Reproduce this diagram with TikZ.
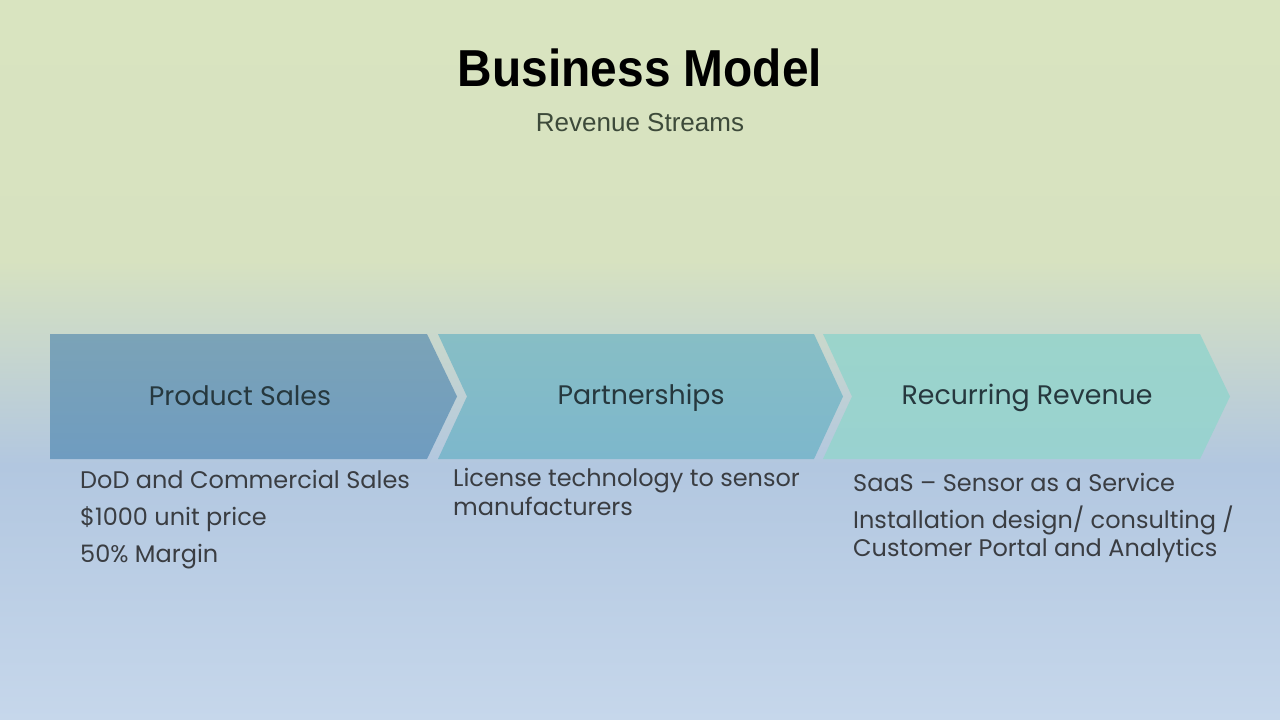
\documentclass[tikz,border=0pt]{standalone}
\usepackage{fontspec}
\setmainfont{Poppins}
\newfontfamily\titlefont[FakeStretch=0.92]{Liberation Sans}
\newfontfamily\subfont{Liberation Sans}
\definecolor{bgA}{HTML}{D9E4C0}
\definecolor{bgB}{HTML}{D7E2C0}
\definecolor{bgC}{HTML}{B2C7E0}
\definecolor{bgD}{HTML}{C6D7EB}
\definecolor{cA1}{HTML}{7BA3B7}
\definecolor{cA2}{HTML}{6F9CC0}
\definecolor{cB1}{HTML}{87BEC5}
\definecolor{cB2}{HTML}{7DB7CC}
\definecolor{cC1}{HTML}{9BD4CB}
\definecolor{cC2}{HTML}{99D2D0}
\definecolor{bodytext}{HTML}{3A3D42}
\definecolor{labeltext}{HTML}{26383E}
\definecolor{subtext}{HTML}{3D4A3A}
\tikzset{
  chevlabel/.style={anchor=base, text=labeltext, font=\fontsize{26.8}{31}\selectfont, inner sep=0pt},
  bodyline/.style={anchor=base west, text=bodytext, font=\fontsize{24}{29}\selectfont, inner sep=0pt},
}
\begin{document}
\begin{tikzpicture}[x=1pt,y=-1pt]
\useasboundingbox (0,0) rectangle (1280,720);
% background
\shade[top color=bgA, bottom color=bgB] (0,0) rectangle (1280,260.5);
\shade[top color=bgB, bottom color=bgC] (0,260) rectangle (1280,465.5);
\shade[top color=bgC, bottom color=bgD] (0,465) rectangle (1280,720);
% chevrons
\shade[top color=cA1, bottom color=cA2] (50,334) -- (427,334) -- (457,396.5) -- (427,459) -- (50,459) -- cycle;
\shade[top color=cB1, bottom color=cB2] (438,334) -- (814,334) -- (843,396.5) -- (814,459) -- (438,459) -- (467,396.5) -- cycle;
\shade[top color=cC1, bottom color=cC2] (823,334) -- (1200,334) -- (1230,396.5) -- (1200,459) -- (823,459) -- (852,396.5) -- cycle;
% title
\node[anchor=base, inner sep=0pt, font=\titlefont\bfseries\fontsize{52}{60}\selectfont] (title) at (640,86) {Business Model};
\node[anchor=base, inner sep=0pt, text=subtext, font=\subfont\fontsize{26}{31}\selectfont] (subtitle) at (640,131) {Revenue Streams};
% chevron labels
\node[chevlabel] (l1) at (240,405) {Product Sales};
\node[chevlabel] (l2) at (641,404) {Partnerships};
\node[chevlabel] (l3) at (1027,404) {Recurring Revenue};
% body text
\node[bodyline] (a1) at (80,488) {DoD and Commercial Sales};
\node[bodyline] (a2) at (80,525) {\$1000 unit price};
\node[bodyline] (a3) at (80,562) {50\% Margin};
\node[bodyline] (b1) at (453,486) {License technology to sensor};
\node[bodyline] (b2) at (453,515) {manufacturers};
\node[bodyline] (c1) at (853,491) {SaaS – Sensor as a Service};
\node[bodyline] (c2) at (853,528) {Installation design/ consulting /};
\node[bodyline] (c3) at (853,556) {Customer Portal and Analytics};
\end{tikzpicture}
\end{document}
